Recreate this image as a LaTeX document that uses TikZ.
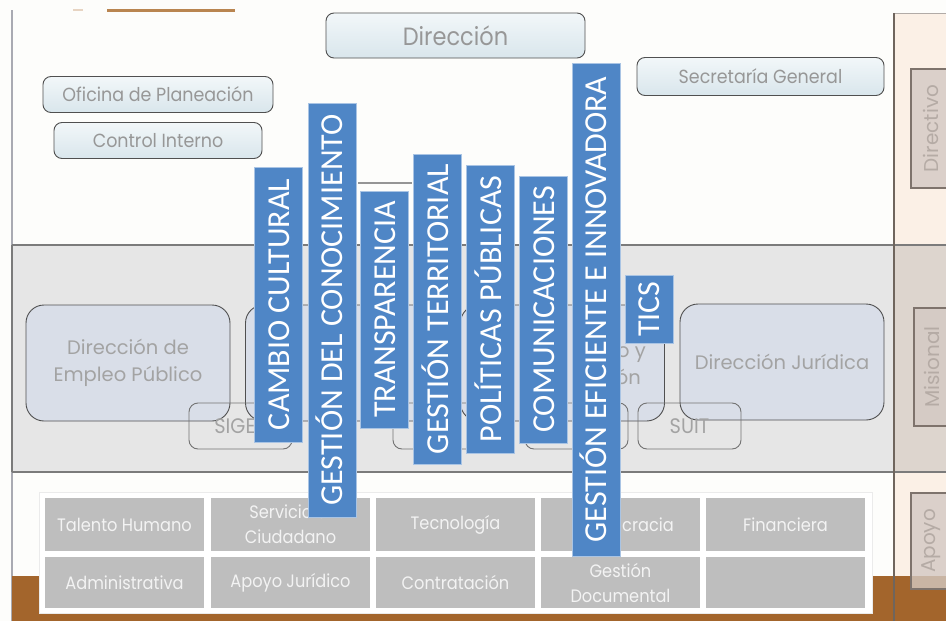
\documentclass[tikz,border=0pt]{standalone}
\usepackage{fontspec}
\setmainfont{Carlito}
\newfontfamily\geo{Poppins}
\newfontfamily\geomid[FakeStretch=0.92]{Poppins}
\newfontfamily\geonarrow[FakeStretch=0.9]{Poppins}

\definecolor{pagebg}{HTML}{FDFDFB}
\definecolor{leftline}{HTML}{A9AAB2}
\definecolor{bandfill}{HTML}{E6E6E6}
\definecolor{bandline}{HTML}{7B7B7B}
\definecolor{panelfill}{HTML}{FBF0E6}
\definecolor{panelband}{HTML}{DDD5CE}
\definecolor{panelline}{HTML}{6F655D}
\definecolor{brownband}{HTML}{A3652C}
\definecolor{lblfill}{HTML}{D3C9C3}
\definecolor{lbldraw}{HTML}{7E736C}
\definecolor{lbltext}{HTML}{B5ABA5}
\definecolor{topfillA}{HTML}{F2F7F9}
\definecolor{topfillB}{HTML}{D9E6EC}
\definecolor{boxline}{HTML}{505050}
\definecolor{toptext}{HTML}{979797}
\definecolor{midfill}{HTML}{D9DEE8}
\definecolor{midtext}{HTML}{A3A3A3}
\definecolor{cellfill}{HTML}{BEBEBE}
\definecolor{celltext}{HTML}{F3F3F3}
\definecolor{barblue}{HTML}{4F86C6}
\definecolor{baredge}{HTML}{A9C4E4}
\definecolor{topaccent}{HTML}{B98550}

\begin{document}
\begin{tikzpicture}[x=1pt,y=-1pt,
  topbox/.style={draw=boxline, line width=0.9pt, rounded corners=8pt,
    top color=topfillA, bottom color=topfillB, text=toptext, inner sep=0pt},
  midbox/.style={draw=boxline, line width=0.9pt, rounded corners=18pt,
    fill=midfill, text=midtext, inner sep=0pt, align=center,
    minimum width=204pt, minimum height=116pt},
  smallbox/.style={draw=boxline!80, line width=0.9pt, rounded corners=9pt,
    text=midtext, inner sep=0pt, minimum width=103pt, minimum height=46pt,
    font=\geomid\fontsize{21}{21}\selectfont},
  celltxt/.style={text=celltext, inner sep=0pt, align=center,
    font=\geonarrow\fontsize{18}{25}\selectfont},
  cell/.style={celltxt, fill=cellfill, minimum width=159pt},
  lvlbox/.style={rotate=90, fill=lblfill, fill opacity=0.8, text opacity=1,
    draw=lbldraw, line width=1.2pt, text=lbltext, inner sep=0pt,
    font=\geo\fontsize{20}{20}\selectfont},
  barbox/.style={rotate=90, fill=barblue, draw=baredge, line width=0.8pt,
    text=white, font=\fontsize{32}{32}\selectfont, inner sep=0pt,
    minimum height=48pt, text height=21pt, text depth=0pt}
]
\useasboundingbox (0,0) rectangle (946,621);
\fill[pagebg] (0,0) rectangle (946,621);

% page edge and cut-off accent at the top
\draw[leftline, line width=1.6pt] (12,10) -- (12,621);
\draw[topaccent, line width=2.4pt] (107,10.5) -- (235,10.5);
\draw[topaccent!35, line width=2pt] (73,10) -- (83,10);

% mission band
\fill[bandfill] (12,245) rectangle (894,472);
\draw[bandline, line width=1.6pt] (12,245) -- (946,245);
\draw[bandline, line width=1.6pt] (12,472) -- (946,472);
\draw[bandline, line width=1.2pt] (12,245) -- (12,472);

% level column on the right
\fill[panelfill] (894,13) rectangle (946,621);
\fill[panelband] (894,245) rectangle (946,472);
\draw[bandline, line width=1.6pt] (894,245) -- (946,245);
\draw[bandline, line width=1.6pt] (894,472) -- (946,472);
\draw[lbldraw!60, line width=0.8pt] (894,13) -- (946,13);

% brown floor
\fill[brownband] (12,576) rectangle (946,621);
\draw[panelline, line width=1.6pt] (894,13) -- (894,621);

% level labels
\node[lvlbox, minimum width=119pt, minimum height=40pt] (directivo) at (931,128.5) {Directivo};
\node[lvlbox, minimum width=118pt, minimum height=36pt] (misional) at (932,367) {Misional};
\node[lvlbox, minimum width=96pt, minimum height=40pt] (apoyo) at (931,541) {Apoyo};

% directive boxes
\node[topbox, minimum width=259pt, minimum height=45pt,
  font=\geonarrow\fontsize{25}{25}\selectfont] (direccion) at (455.5,35.5) {Dirección};
\node[topbox, minimum width=230pt, minimum height=36pt,
  font=\geomid\fontsize{19}{19}\selectfont] (planeacion) at (158,94.5) {Oficina de Planeación};
\node[topbox, minimum width=208pt, minimum height=36pt,
  font=\geomid\fontsize{19}{19}\selectfont] (control) at (158,140.5) {Control Interno};
\node[topbox, minimum width=247pt, minimum height=38pt,
  font=\geomid\fontsize{19}{19}\selectfont] (secretaria) at (760.5,76.5) {Secretaría General};

% mission boxes
\node[midbox, font=\geo\fontsize{19.5}{27}\selectfont] (empleo) at (128,363) {Dirección de\\Empleo Público};
\node[midbox] (mision2) at (347.5,363) {};
\node[midbox] (mision3) at (562.5,363) {};
\node[midbox, font=\geo\fontsize{19.5}{27}\selectfont] (juridica) at (782,362) {Dirección Jurídica};
\node[text=midtext, font=\geo\fontsize{19.5}{23}\selectfont, anchor=east, inner sep=0pt] (m3a) at (646,355) {o y};
\node[text=midtext, font=\geo\fontsize{19.5}{23}\selectfont, anchor=east, inner sep=0pt] (m3b) at (641,377) {ón};

\node[smallbox] (sigep) at (240.5,426) {SIGEP};
\node[smallbox] (sis2) at (444.5,426) {};
\node[smallbox] (sis3) at (576.5,426) {};
\node[smallbox] (suit) at (689.5,426) {SUIT};

% support table
\node[fill=white, draw=white!92!black, line width=0.6pt, minimum width=833pt,
  minimum height=121pt, inner sep=0pt] (tabla) at (455.5,552.5) {};
\begin{scope}[every node/.append style={cell}]
\node[minimum height=53pt] (c11) at (124.5,524.5) {Talento Humano};
\node[minimum height=53pt] (c12) at (290.5,524.5) {Servicio al\\Ciudadano};
\node[minimum height=53pt] (c13) at (455.5,524.5) {Tecnología};
\node[minimum height=53pt] (c14) at (620.5,524.5) {};
\node[minimum height=53pt] (c15) at (785.5,524.5) {Financiera};
\node[minimum height=51pt] (c21) at (124.5,582.5) {Administrativa};
\node[minimum height=51pt] (c22) at (290.5,582.5) {Apoyo Jurídico};
\node[minimum height=51pt] (c23) at (455.5,582.5) {Contratación};
\node[minimum height=51pt] (c24) at (620.5,582.5) {Gestión\\Documental};
\node[minimum height=51pt] (c25) at (785.5,582.5) {};
\end{scope}
\node[celltxt, anchor=west] (c14txt) at (622,524.5) {cracia};

% edge of a shape behind the strategy bars
\draw[bandline!80, line width=1.8pt] (358,183) -- (412,183);

% strategy bars
\node[barbox, minimum width=275pt] (cambio) at (278.5,304.5) {CAMBIO CULTURAL};
\node[barbox, minimum width=414pt] (conocimiento) at (332,310) {GESTIÓN DEL CONOCIMIENTO};
\node[barbox, minimum width=237pt] (transparencia) at (384.5,309.5) {TRANSPARENCIA};
\node[barbox, minimum width=310pt] (territorial) at (437.5,309) {GESTIÓN TERRITORIAL};
\node[barbox, minimum width=288pt] (politicas) at (490.5,309) {POLÍTICAS PÚBLICAS};
\node[barbox, minimum width=267pt] (comunicaciones) at (543.5,309.5) {COMUNICACIONES};
\node[barbox, minimum width=493pt] (eficiente) at (596,309.5) {GESTIÓN EFICIENTE E INNOVADORA};
\node[barbox, minimum width=68pt] (tics) at (649,309) {TICS};
\end{tikzpicture}
\end{document}
